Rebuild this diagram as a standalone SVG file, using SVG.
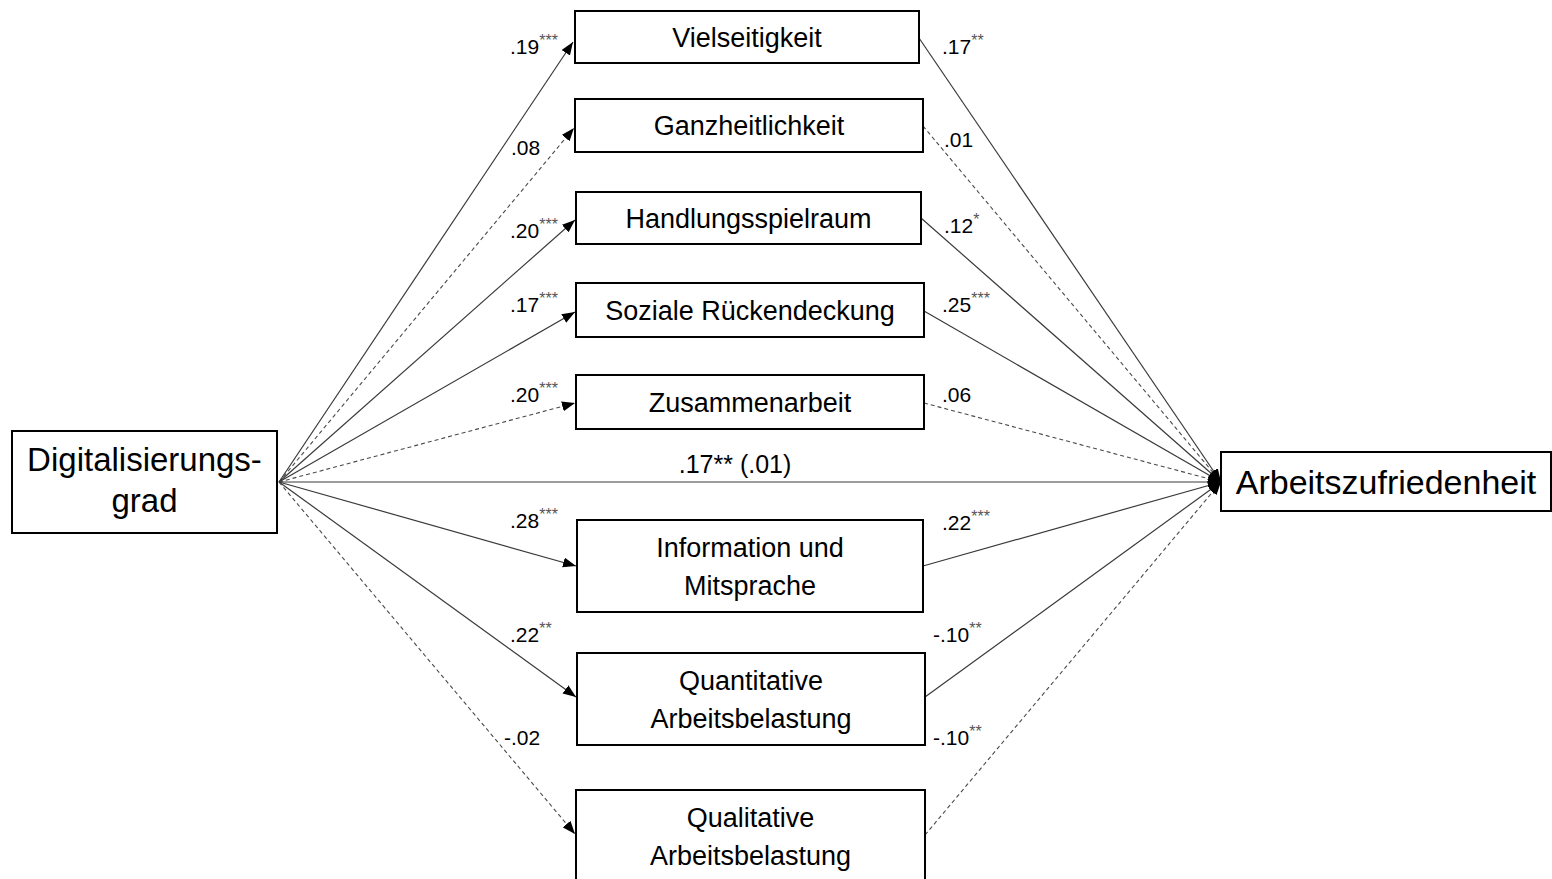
<svg xmlns="http://www.w3.org/2000/svg" width="1552" height="879" viewBox="0 0 1552 879">
<style>
.box{fill:#fff;stroke:#000;stroke-width:2}
.lbl{font-family:"Liberation Sans",Arial,sans-serif;font-size:27px;fill:#000;text-anchor:middle}
.big{font-family:"Liberation Sans",Arial,sans-serif;font-size:33px;fill:#000;text-anchor:middle}
.coef{font-family:"Liberation Sans",Arial,sans-serif;font-size:21px;fill:#000}
.st{font-size:16px;fill:#555}
.sol{stroke:#3a3a3a;stroke-width:1.2;fill:none}
.dash{stroke:#4a4a4a;stroke-width:1.1;fill:none;stroke-dasharray:4 3}
</style>
<defs>
<marker id="ah" markerUnits="userSpaceOnUse" markerWidth="14" markerHeight="11" refX="13" refY="5" orient="auto">
<path d="M0,0 L13,5 L0,10 z" fill="#000"/>
</marker>
</defs>
<g id="connectors">
<line class="sol" x1="279" y1="482" x2="573" y2="42" marker-end="url(#ah)"/>
<line class="dash" x1="279" y1="482" x2="574" y2="128" marker-end="url(#ah)"/>
<line class="sol" x1="279" y1="482" x2="575" y2="220" marker-end="url(#ah)"/>
<line class="sol" x1="279" y1="482" x2="575" y2="312" marker-end="url(#ah)"/>
<line class="dash" x1="279" y1="482" x2="575" y2="403" marker-end="url(#ah)"/>
<line class="sol" x1="279" y1="482" x2="576" y2="566" marker-end="url(#ah)"/>
<line class="sol" x1="279" y1="482" x2="576" y2="697" marker-end="url(#ah)"/>
<line class="dash" x1="279" y1="482" x2="575" y2="834" marker-end="url(#ah)"/>
<line class="sol" x1="279" y1="482" x2="1221" y2="482" marker-end="url(#ah)"/>
<line class="sol" x1="919" y1="38" x2="1221" y2="482" marker-end="url(#ah)"/>
<line class="dash" x1="923" y1="126" x2="1221" y2="482" marker-end="url(#ah)"/>
<line class="sol" x1="921" y1="218" x2="1221" y2="482" marker-end="url(#ah)"/>
<line class="sol" x1="924" y1="311" x2="1221" y2="482" marker-end="url(#ah)"/>
<line class="dash" x1="924" y1="403" x2="1221" y2="482" marker-end="url(#ah)"/>
<line class="sol" x1="923" y1="566" x2="1221" y2="482" marker-end="url(#ah)"/>
<line class="sol" x1="925" y1="697" x2="1221" y2="482" marker-end="url(#ah)"/>
<line class="dash" x1="925" y1="835" x2="1221" y2="482" marker-end="url(#ah)"/>
<text class="coef" x="735" y="473" style="font-size:25px;text-anchor:middle">.17** (.01)</text>
<text class="coef" x="510" y="54">.19<tspan class="st" dy="-8">***</tspan></text>
<text class="coef" x="511" y="155">.08</text>
<text class="coef" x="510" y="238">.20<tspan class="st" dy="-8">***</tspan></text>
<text class="coef" x="510" y="312">.17<tspan class="st" dy="-8">***</tspan></text>
<text class="coef" x="510" y="402">.20<tspan class="st" dy="-8">***</tspan></text>
<text class="coef" x="510" y="528">.28<tspan class="st" dy="-8">***</tspan></text>
<text class="coef" x="510" y="642">.22<tspan class="st" dy="-8">**</tspan></text>
<text class="coef" x="504" y="745">-.02</text>
<text class="coef" x="942" y="54">.17<tspan class="st" dy="-8">**</tspan></text>
<text class="coef" x="944" y="147">.01</text>
<text class="coef" x="944" y="233">.12<tspan class="st" dy="-8">*</tspan></text>
<text class="coef" x="942" y="312">.25<tspan class="st" dy="-8">***</tspan></text>
<text class="coef" x="942" y="402">.06</text>
<text class="coef" x="942" y="530">.22<tspan class="st" dy="-8">***</tspan></text>
<text class="coef" x="933" y="642">-.10<tspan class="st" dy="-8">**</tspan></text>
<text class="coef" x="933" y="745">-.10<tspan class="st" dy="-8">**</tspan></text>
</g>
<g id="digitalisierungsgrad">
<rect class="box" x="12" y="431" width="265" height="102"/>
<text class="big" x="144.5" y="471">Digitalisierungs-</text>
<text class="big" x="144.5" y="512">grad</text>
</g>
<g id="arbeitszufriedenheit">
<rect class="box" x="1221" y="452" width="330" height="59"/>
<text class="big" x="1386" y="494" style="font-size:34px">Arbeitszufriedenheit</text>
</g>
<g id="vielseitigkeit">
<rect class="box" x="575" y="11" width="344" height="52"/>
<text class="lbl" x="747" y="47">Vielseitigkeit</text>
</g>
<g id="ganzheitlichkeit">
<rect class="box" x="575" y="99" width="348" height="53"/>
<text class="lbl" x="749" y="135">Ganzheitlichkeit</text>
</g>
<g id="handlungsspielraum">
<rect class="box" x="576" y="192" width="345" height="52"/>
<text class="lbl" x="748.5" y="228">Handlungsspielraum</text>
</g>
<g id="soziale-rueckendeckung">
<rect class="box" x="576" y="283" width="348" height="54"/>
<text class="lbl" x="750" y="320">Soziale Rückendeckung</text>
</g>
<g id="zusammenarbeit">
<rect class="box" x="576" y="375" width="348" height="54"/>
<text class="lbl" x="750" y="412">Zusammenarbeit</text>
</g>
<g id="information-mitsprache">
<rect class="box" x="577" y="520" width="346" height="92"/>
<text class="lbl" x="750" y="557">Information und</text>
<text class="lbl" x="750" y="595">Mitsprache</text>
</g>
<g id="quantitative-arbeitsbelastung">
<rect class="box" x="577" y="653" width="348" height="92"/>
<text class="lbl" x="751" y="690">Quantitative</text>
<text class="lbl" x="751" y="728">Arbeitsbelastung</text>
</g>
<g id="qualitative-arbeitsbelastung">
<rect class="box" x="576" y="790" width="349" height="100"/>
<text class="lbl" x="750.5" y="827">Qualitative</text>
<text class="lbl" x="750.5" y="865">Arbeitsbelastung</text>
</g>
</svg>
